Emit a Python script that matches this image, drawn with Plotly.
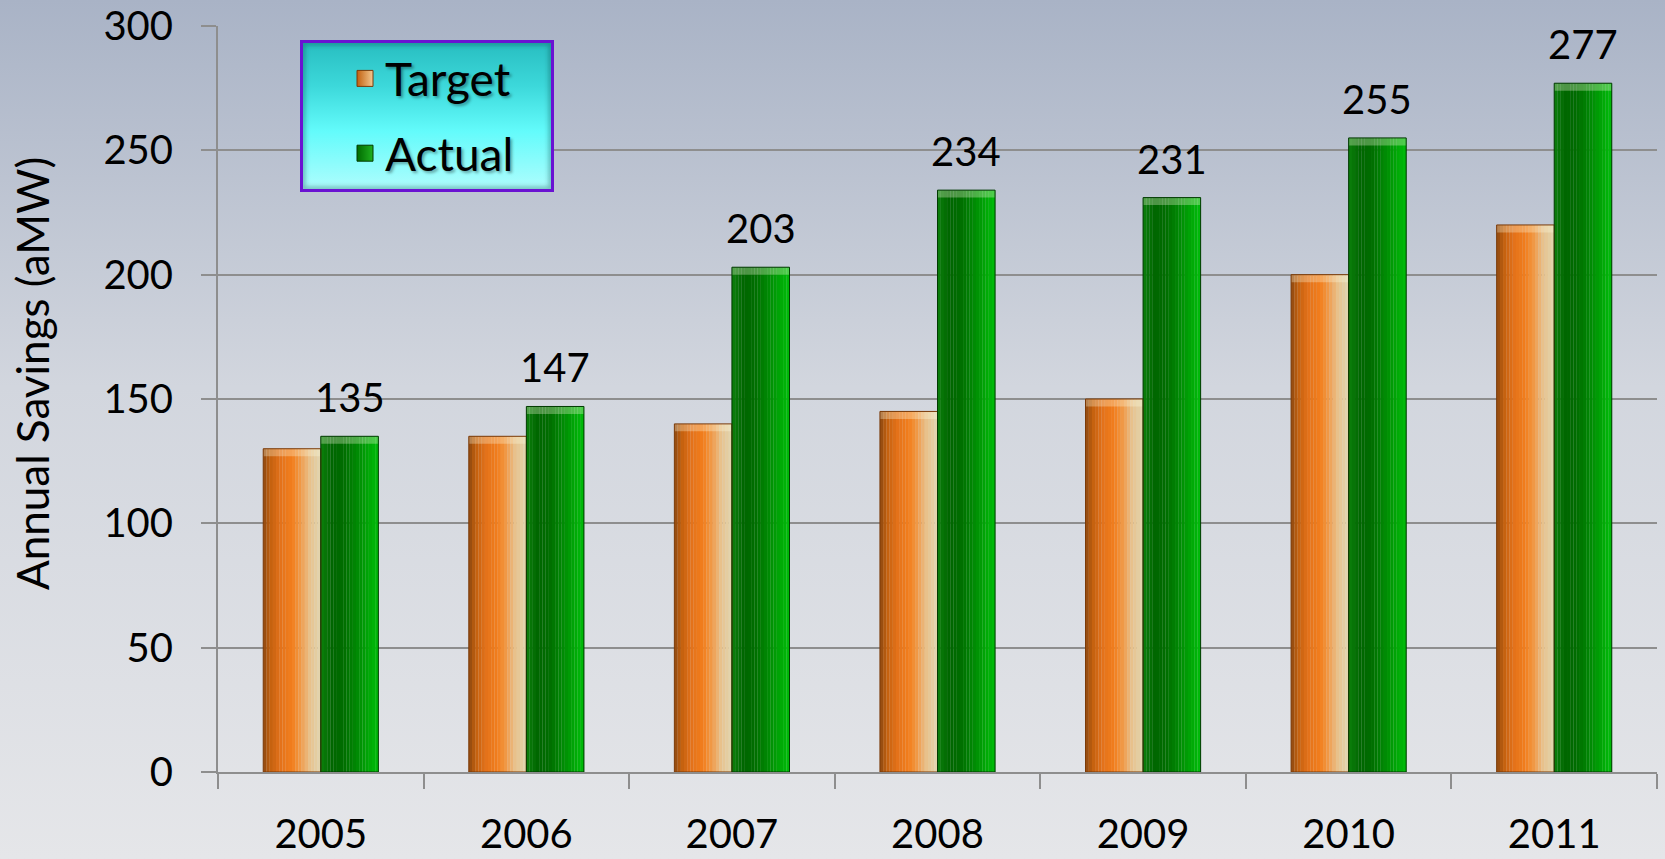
import base64
import plotly.graph_objects as go

# ---------------- data ----------------
years = ["2005", "2006", "2007", "2008", "2009", "2010", "2011"]
target = [130, 135, 140, 145, 150, 200, 220]
actual = [135, 147, 203, 234, 231, 255, 277]
y_ticks = [0, 50, 100, 150, 200, 250, 300]
series_names = ["Target", "Actual"]
y_title = "Annual Savings (aMW)"

# ---------------- style ----------------
W, H = 1665, 859
ML, MR, MT, MB = 218, 8, 26, 87
PW, PH = W - ML - MR, H - MT - MB
FONT = "Lato"
BAR_W = 0.28
NSTRIP = 18
BEVEL = 3.0   # thickness of top highlight, in axis units

target_keys = [(0.0, "#8e4810"), (0.12, "#c2600e"), (0.3, "#e4721a"),
               (0.5, "#f27e1c"), (0.65, "#f09a48"), (0.8, "#e8c08a"), (1.0, "#e2d6b0")]
actual_keys = [(0.0, "#0c800c"), (0.2, "#006600"), (0.4, "#006e00"),
               (0.65, "#008c04"), (0.85, "#00aa06"), (1.0, "#00bc0a")]


def hex2rgb(h):
    h = h.lstrip("#")
    return [int(h[i:i + 2], 16) for i in (0, 2, 4)]


def grad(keys, t):
    for (t0, c0), (t1, c1) in zip(keys, keys[1:]):
        if t <= t1:
            f = (t - t0) / (t1 - t0) if t1 > t0 else 0
            a, b = hex2rgb(c0), hex2rgb(c1)
            return "rgb(%d,%d,%d)" % tuple(round(a[i] + (b[i] - a[i]) * f) for i in range(3))
    return keys[-1][1]


def svg_uri(svg):
    return "data:image/svg+xml;base64," + base64.b64encode(svg.encode()).decode()


bg_svg = f"""<svg xmlns='http://www.w3.org/2000/svg' width='{W}' height='{H}' viewBox='0 0 {W} {H}' preserveAspectRatio='none'>
<defs><linearGradient id='g' x1='0' y1='0' x2='0' y2='1'>
<stop offset='0' stop-color='#a9b3c6'/><stop offset='0.45' stop-color='#d2d6de'/>
<stop offset='1' stop-color='#e5e6e9'/></linearGradient></defs>
<rect x='0' y='0' width='{W}' height='{H}' fill='url(#g)'/></svg>"""

LX0, LY0, LW, LH = 300, 40, 254, 152
leg_svg = f"""<svg xmlns='http://www.w3.org/2000/svg' width='{LW}' height='{LH}' viewBox='0 0 {LW} {LH}' preserveAspectRatio='none'>
<defs><linearGradient id='c' x1='0' y1='0' x2='0' y2='1'>
<stop offset='0' stop-color='#27bcbf'/><stop offset='0.3' stop-color='#3cd8da'/>
<stop offset='0.6' stop-color='#63fbfb'/><stop offset='1' stop-color='#b2fdfd'/></linearGradient>
<filter id='b'><feGaussianBlur stdDeviation='2'/></filter></defs>
<rect x='0' y='0' width='{LW}' height='{LH}' fill='url(#c)'/>
<rect x='3' y='3' width='{LW-6}' height='{LH-6}' fill='none' stroke='rgba(0,60,60,0.35)' stroke-width='5' filter='url(#b)'/>
<rect x='1.5' y='1.5' width='{LW-3}' height='{LH-3}' fill='none' stroke='#6a12d2' stroke-width='3'/></svg>"""

fig = go.Figure()

sw = BAR_W / NSTRIP
for vals, keys, off0 in ((target, target_keys, -BAR_W), (actual, actual_keys, 0.0)):
    for k in range(NSTRIP):
        t = (k + 0.5) / NSTRIP
        fig.add_trace(go.Bar(
            x=years, y=vals, width=sw * 1.05, offset=off0 + k * sw,
            marker=dict(color=grad(keys, t), line=dict(width=0)),
            showlegend=False, hoverinfo="skip"))
    # top bevel highlight
    fig.add_trace(go.Bar(
        x=years, y=[BEVEL] * len(vals), base=[v - BEVEL for v in vals],
        width=BAR_W, offset=off0,
        marker=dict(color="rgba(255,255,230,0.3)", line=dict(width=0)),
        showlegend=False, hoverinfo="skip"))

# outlines
fig.add_trace(go.Bar(x=years, y=target, width=BAR_W, offset=-BAR_W,
                     marker=dict(color="rgba(0,0,0,0)", line=dict(color="#7a3a08", width=1)),
                     showlegend=False, hoverinfo="skip"))
fig.add_trace(go.Bar(x=years, y=actual, width=BAR_W, offset=0,
                     marker=dict(color="rgba(0,0,0,0)", line=dict(color="#003a00", width=1)),
                     showlegend=False, hoverinfo="skip"))

# legend entries
fig.add_trace(go.Scatter(
    x=[None], y=[None], mode="markers", name=series_names[0], legendgroup="t",
    marker=dict(symbol="square", size=22, color="#c2600e",
                gradient=dict(type="horizontal", color="#f2c890"),
                line=dict(color="#7a3a08", width=1))))
fig.add_trace(go.Scatter(
    x=[None], y=[None], mode="markers", name=series_names[1], legendgroup="a",
    marker=dict(symbol="square", size=22, color="#006a00",
                gradient=dict(type="horizontal", color="#20b020"),
                line=dict(color="#003a00", width=1))))

annotations = []
for i, v in enumerate(actual):
    annotations.append(dict(
        x=i + BAR_W / 2, y=v, xref="x", yref="y", text=str(v), showarrow=False,
        yanchor="bottom", xanchor="center", yshift=13,
        font=dict(family=FONT, size=40, color="black")))
# y-axis title (placed as rotated text like the reference)
annotations.append(dict(
    text=y_title, textangle=-90, showarrow=False,
    xref="paper", yref="paper", x=(32 - ML) / PW, y=1 - (374 - MT) / PH,
    xanchor="center", yanchor="middle",
    font=dict(family=FONT, size=44, color="black")))

fig.update_layout(
    width=W, height=H,
    margin=dict(l=ML, r=MR, t=MT, b=MB, pad=0),
    paper_bgcolor="#e5e6e9", plot_bgcolor="rgba(0,0,0,0)",
    barmode="overlay",
    font=dict(family=FONT, size=40, color="black"),
    showlegend=True,
    legend=dict(
        x=(LX0 + LW / 2 + 5 - ML) / PW, y=1 - (LY0 + LH / 2 - MT) / PH,
        xanchor="center", yanchor="middle",
        bgcolor="rgba(0,0,0,0)", borderwidth=0, itemsizing="trace",
        font=dict(family=FONT, size=46, color="black",
                  shadow="2px 2px 3px rgba(0,0,0,0.35)"),
        tracegroupgap=12, traceorder="grouped"),
    xaxis=dict(
        type="category", categoryorder="array", categoryarray=years,
        range=[-0.5, len(years) - 0.5],
        showgrid=False, showline=True, linecolor="#8e8e8e", linewidth=2,
        ticks="outside", tickson="boundaries", ticklen=15, tickcolor="#8e8e8e",
        tickwidth=2, ticklabelstandoff=26, automargin=False,
        tickfont=dict(family=FONT, size=40, color="black"), fixedrange=True),
    yaxis=dict(
        range=[0, 300.01], tickvals=y_ticks,
        showgrid=True, gridcolor="#8e8e8e", gridwidth=1.5,
        showline=True, linecolor="#8e8e8e", linewidth=2,
        ticks="outside", ticklen=15, tickcolor="#8e8e8e", tickwidth=1.5,
        ticklabelstandoff=20, zeroline=False,
        tickfont=dict(family=FONT, size=40, color="black"),
        automargin=False, fixedrange=True),
    images=[
        dict(source=svg_uri(bg_svg), xref="paper", yref="paper",
             x=-ML / PW, y=1 + MT / PH, sizex=W / PW, sizey=H / PH,
             xanchor="left", yanchor="top", sizing="stretch", layer="below"),
        dict(source=svg_uri(leg_svg), xref="paper", yref="paper",
             x=(LX0 - ML) / PW, y=1 - (LY0 - MT) / PH, sizex=LW / PW, sizey=LH / PH,
             xanchor="left", yanchor="top", sizing="stretch", layer="above"),
    ],
    annotations=annotations,
)

fig.write_html(
    "out.html",
    config={"displayModeBar": False},
    post_script="document.body.style.margin='0';document.body.style.overflow='hidden';",
)
